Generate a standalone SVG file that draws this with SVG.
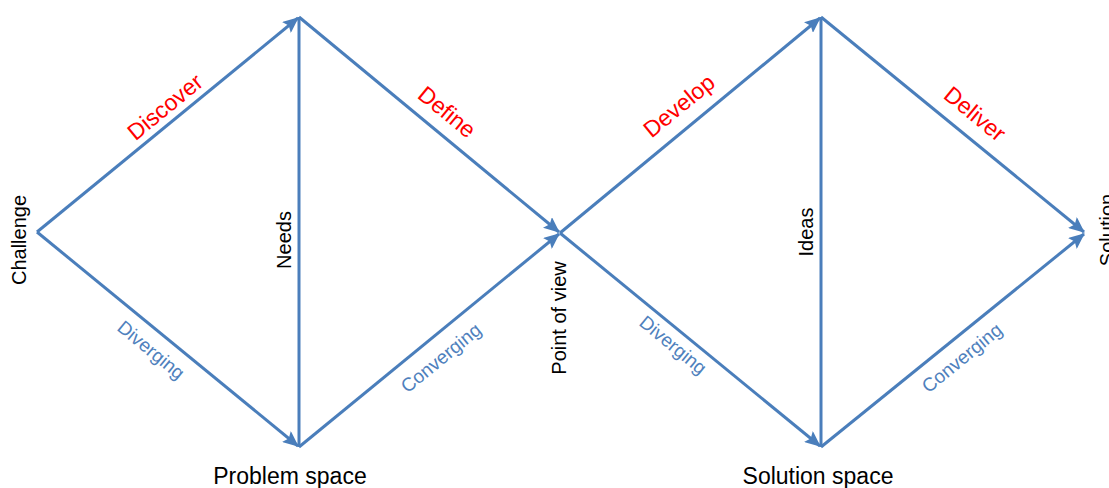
<svg xmlns="http://www.w3.org/2000/svg" width="1109" height="488" viewBox="0 0 1109 488">
<style>
.ln{stroke:#4a7ebb;stroke-width:3;fill:none}
.arr{marker-end:url(#ah)}
.t{font-family:"Liberation Sans",Arial,sans-serif;font-size:20px;fill:#000}
.red{font-family:"Liberation Sans",Arial,sans-serif;font-size:23px;fill:#ff0000}
.blue{font-family:"Liberation Sans",Arial,sans-serif;font-size:19px;fill:#4f81bd}
</style>
<defs>
<marker id="ah" viewBox="0 0 16 14" refX="15" refY="7" markerWidth="16" markerHeight="14" markerUnits="userSpaceOnUse" orient="auto">
<path d="M0,0 L16,7 L0,14 L3,7 z" fill="#4a7ebb"/>
</marker>
</defs>
<rect width="1109" height="488" fill="#fff"/>
<g id="connectors">
<line class="ln arr" x1="37" y1="232" x2="298" y2="18"/>
<line class="ln arr" x1="37" y1="232" x2="298" y2="446"/>
<line class="ln" x1="299" y1="17" x2="299" y2="447"/>
<line class="ln arr" x1="299" y1="17" x2="559" y2="232"/>
<line class="ln arr" x1="299" y1="447" x2="559" y2="234"/>
<line class="ln arr" x1="560" y1="233" x2="820" y2="18"/>
<line class="ln arr" x1="560" y1="233" x2="820" y2="446"/>
<line class="ln" x1="821" y1="17" x2="821" y2="447"/>
<line class="ln arr" x1="821" y1="17" x2="1084" y2="232"/>
<line class="ln arr" x1="821" y1="447" x2="1084" y2="234"/>
</g>
<g id="challenge"><text class="t" transform="translate(26,240) rotate(-90)" text-anchor="middle">Challenge</text></g>
<g id="needs"><text class="t" transform="translate(291,240) rotate(-90)" text-anchor="middle">Needs</text></g>
<g id="point-of-view"><text class="t" transform="translate(566,318) rotate(-90)" text-anchor="middle">Point of view</text></g>
<g id="ideas"><text class="t" transform="translate(813,232) rotate(-90)" text-anchor="middle">Ideas</text></g>
<g id="solution"><text class="t" transform="translate(1114,230) rotate(-90)" text-anchor="middle">Solution</text></g>
<g id="problem-space"><text class="t" x="290" y="484" text-anchor="middle" style="font-size:23px">Problem space</text></g>
<g id="solution-space"><text class="t" x="818" y="484" text-anchor="middle" style="font-size:23px">Solution space</text></g>
<g id="discover"><text class="red" transform="translate(170,113) rotate(-39.4)" text-anchor="middle">Discover</text></g>
<g id="define"><text class="red" transform="translate(442,118) rotate(39.4)" text-anchor="middle">Define</text></g>
<g id="develop"><text class="red" transform="translate(684,112) rotate(-39.4)" text-anchor="middle">Develop</text></g>
<g id="deliver"><text class="red" transform="translate(970,120) rotate(39.4)" text-anchor="middle">Deliver</text></g>
<g id="diverging-1"><text class="blue" transform="translate(147,355) rotate(39.4)" text-anchor="middle">Diverging</text></g>
<g id="converging-1"><text class="blue" transform="translate(445,363) rotate(-39.4)" text-anchor="middle">Converging</text></g>
<g id="diverging-2"><text class="blue" transform="translate(669,350) rotate(39.4)" text-anchor="middle">Diverging</text></g>
<g id="converging-2"><text class="blue" transform="translate(966,363) rotate(-39.4)" text-anchor="middle">Converging</text></g>
</svg>
